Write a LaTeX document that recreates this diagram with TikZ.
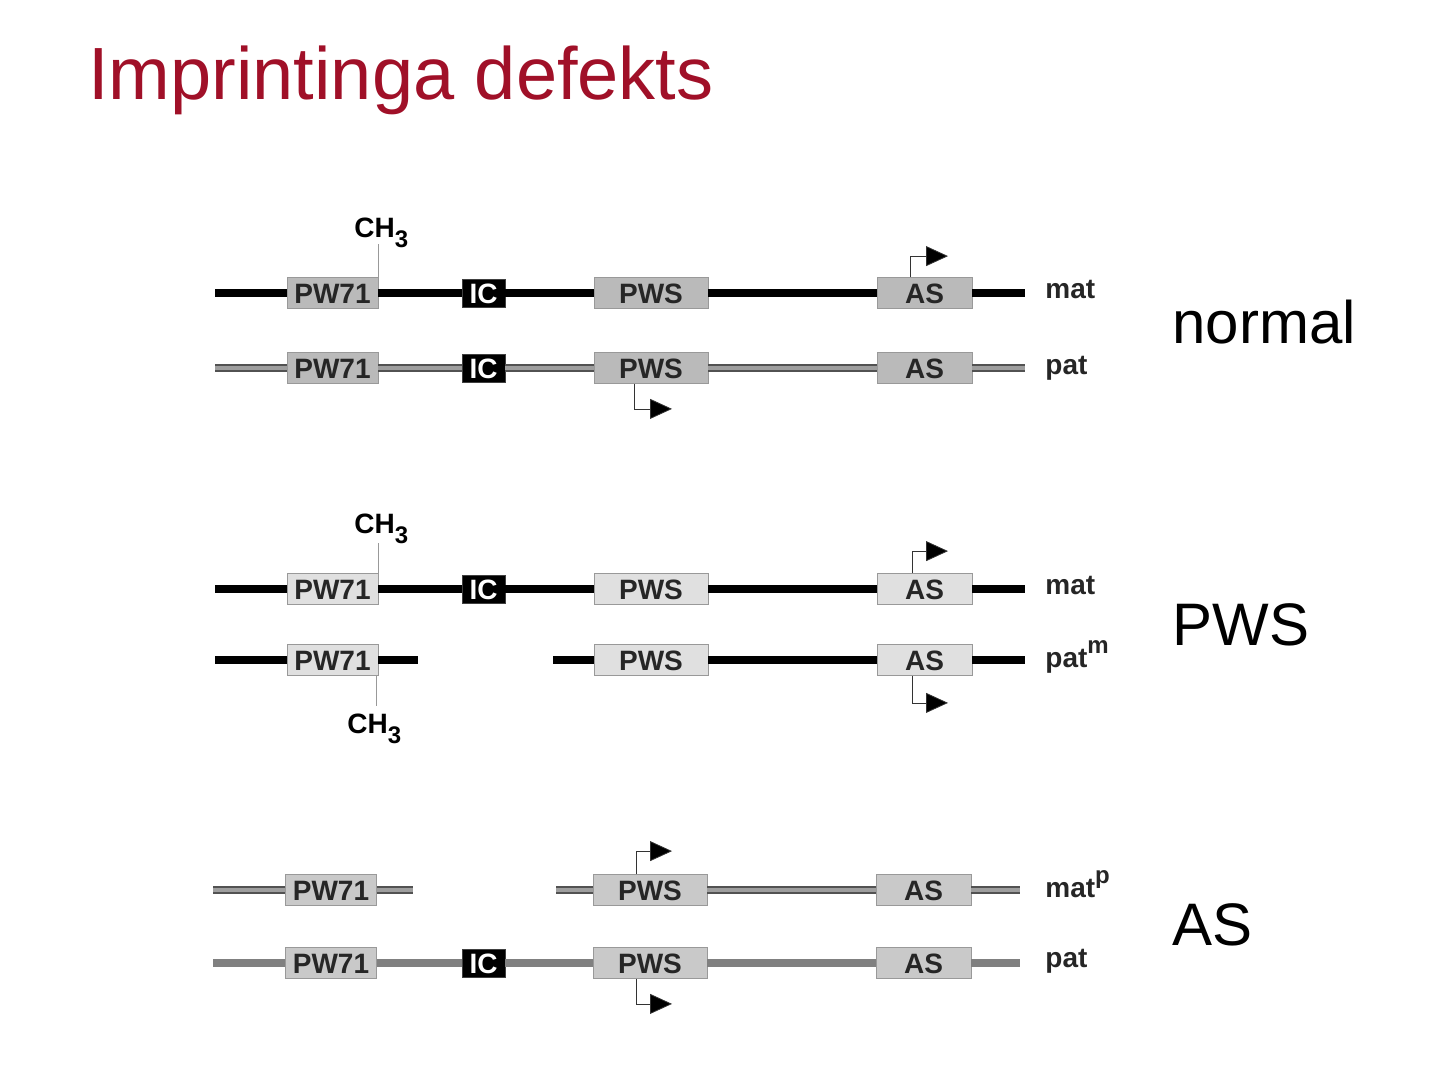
\documentclass[tikz,border=0pt]{standalone}
\usepackage{fontspec}
\setmainfont{Liberation Sans}
\usetikzlibrary{arrows.meta}
\usepackage{xcolor}
\definecolor{titlered}{RGB}{160,16,40}

\newcommand{\methylgroup}{CH\raisebox{-5pt}{\fontsize{12}{14}\selectfont 3}}

\begin{document}
\begin{tikzpicture}[x=0.5pt, y=-0.5pt]

    \tikzstyle{gene} = [rectangle, draw=black!40, fill=black!27, minimum height=15.5pt, inner sep=0pt, text height=10pt, text depth=0pt, text=black!85, font=\fontsize{14}{16}\selectfont\bfseries]
    \tikzstyle{light} = [fill=black!12]
    \tikzstyle{mid} = [fill=black!21]
    \tikzstyle{pwbox} = [minimum width=45.5pt]
    \tikzstyle{pwsbox} = [minimum width=57pt]
    \tikzstyle{asbox} = [minimum width=47.5pt]
    \tikzstyle{icbox} = [rectangle, draw=gray!50!black, fill=black, text=white, minimum width=21.5pt, minimum height=14pt, inner sep=0pt, text height=10pt, text depth=0pt, font=\fontsize{14}{16}\selectfont\bfseries]
    \tikzstyle{blackline} = [line width=4pt, black]
    \tikzstyle{stripeline} = [line width=1.2pt, draw=black!68, double=black!38, double distance=1.6pt]
    \tikzstyle{greyline} = [line width=4pt, black!50]
    \tikzstyle{tick} = [black!40, line width=0.4pt]
    \tikzstyle{prom} = [black!80, line width=0.4pt, -{Triangle[length=11pt, width=10pt, fill=black]}]
    \tikzstyle{strand} = [anchor=base west, inner sep=0pt, text=black!85, font=\fontsize{14}{16}\selectfont\bfseries]
    \tikzstyle{methyl} = [anchor=base west, inner sep=0pt, font=\fontsize{14}{16}\selectfont\bfseries]
    \tikzstyle{case} = [anchor=base west, inner sep=0pt, font=\fontsize{30}{34}\selectfont]

    \useasboundingbox (0,0) rectangle (1440,1065);

    \node (title) [anchor=base west, inner sep=0pt, text=titlered, font=\fontsize{37}{42}\selectfont] at (88,100) {Imprintinga defekts};

    % normal
    \coordinate (m1a) at (215,293);
    \coordinate (m1b) at (1025,293);
    \node (m1pw) [gene, pwbox] at (332.5,293) {PW71};
    \node (m1ic) [icbox] at (483.5,293) {IC};
    \node (m1pws) [gene, pwsbox] at (651,293) {PWS};
    \node (m1as) [gene, asbox] at (924.5,293) {AS};
    \draw [blackline] (m1a) -- (m1pw) -- (m1ic) -- (m1pws) -- (m1as) -- (m1b);
    \node (m1ch) [methyl] at (354,237) {\methylgroup};
    \draw [tick] (m1pw.north east) -- ++(0,-33);
    \draw [prom] ([xshift=-7.25pt]m1as.north) |- ++(38,-21);
    \node (m1lab) [strand] at (1045,298) {mat};

    \coordinate (p1a) at (215,368);
    \coordinate (p1b) at (1025,368);
    \node (p1pw) [gene, pwbox] at (332.5,368) {PW71};
    \node (p1ic) [icbox] at (483.5,368) {IC};
    \node (p1pws) [gene, pwsbox] at (651,368) {PWS};
    \node (p1as) [gene, asbox] at (924.5,368) {AS};
    \draw [stripeline] (p1a) -- (p1pw) -- (p1ic) -- (p1pws) -- (p1as) -- (p1b);
    \draw [prom] ([xshift=-8.5pt]p1pws.south) |- ++(38,25);
    \node (p1lab) [strand] at (1045,374) {pat};

    \node (normal) [case] at (1172,343) {normal};

    % PWS
    \coordinate (m2a) at (215,589);
    \coordinate (m2b) at (1025,589);
    \node (m2pw) [gene, light, pwbox] at (332.5,589) {PW71};
    \node (m2ic) [icbox] at (483.5,589) {IC};
    \node (m2pws) [gene, light, pwsbox] at (651,589) {PWS};
    \node (m2as) [gene, light, asbox] at (924.5,589) {AS};
    \draw [blackline] (m2a) -- (m2pw) -- (m2ic) -- (m2pws) -- (m2as) -- (m2b);
    \node (m2ch) [methyl] at (354,533) {\methylgroup};
    \draw [tick] (m2pw.north east) -- ++(0,-30);
    \draw [prom] ([xshift=-6.25pt]m2as.north) |- ++(36,-22);
    \node (m2lab) [strand] at (1045,594) {mat};

    \coordinate (p2a) at (215,660);
    \coordinate (p2b) at (418,660);
    \coordinate (p2c) at (553,660);
    \coordinate (p2d) at (1025,660);
    \node (p2pw) [gene, light, pwbox] at (332.5,660) {PW71};
    \node (p2pws) [gene, light, pwsbox] at (651,660) {PWS};
    \node (p2as) [gene, light, asbox] at (924.5,660) {AS};
    \draw [blackline] (p2a) -- (p2pw) -- (p2b);
    \draw [blackline] (p2c) -- (p2pws) -- (p2as) -- (p2d);
    \draw [tick] ([xshift=-1pt]p2pw.south east) -- ++(0,30);
    \node (p2ch) [methyl] at (347,733) {\methylgroup};
    \draw [prom] ([xshift=-6.25pt]p2as.south) |- ++(36,27);
    \node (p2lab) [strand] at (1045,667) {pat\raisebox{7pt}{\fontsize{12}{13}\selectfont m}};

    \node (pws) [case] at (1172,645) {PWS};

    % AS
    \coordinate (m3a) at (213,890);
    \coordinate (m3b) at (413,890);
    \coordinate (m3c) at (556,890);
    \coordinate (m3d) at (1020,890);
    \node (m3pw) [gene, mid, pwbox] at (331,890) {PW71};
    \node (m3pws) [gene, mid, pwsbox] at (650,890) {PWS};
    \node (m3as) [gene, mid, asbox] at (923.5,890) {AS};
    \draw [stripeline] (m3a) -- (m3pw) -- (m3b);
    \draw [stripeline] (m3c) -- (m3pws) -- (m3as) -- (m3d);
    \draw [prom] ([xshift=-7pt]m3pws.north) |- ++(36,-23);
    \node (m3lab) [strand] at (1045,897) {mat\raisebox{7pt}{\fontsize{12}{13}\selectfont p}};

    \coordinate (p3a) at (213,963);
    \coordinate (p3b) at (1020,963);
    \node (p3pw) [gene, mid, pwbox] at (331,963) {PW71};
    \node (p3ic) [icbox] at (483.5,963) {IC};
    \node (p3pws) [gene, mid, pwsbox] at (650,963) {PWS};
    \node (p3as) [gene, mid, asbox] at (923.5,963) {AS};
    \draw [greyline] (p3a) -- (p3pw) -- (p3ic) -- (p3pws) -- (p3as) -- (p3b);
    \draw [prom] ([xshift=-7pt]p3pws.south) |- ++(36,25);
    \node (p3lab) [strand] at (1045,967) {pat};

    \node (as) [case] at (1172,945) {AS};

\end{tikzpicture}
\end{document}
